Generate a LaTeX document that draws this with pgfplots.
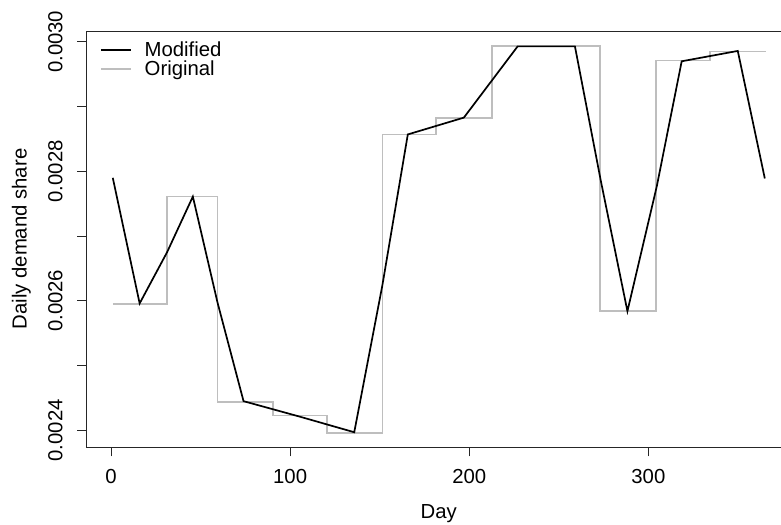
\documentclass[border=0pt]{standalone}
\usepackage{fontspec}
\setmainfont{Liberation Sans}
\usepackage{pgfplots}
\pgfplotsset{compat=1.18}
\definecolor{origgray}{RGB}{190,190,190}
\begin{document}
\begin{tikzpicture}[font=\fontsize{20.4}{24}\selectfont]
\begin{axis}[
  at={(0,0)}, anchor=south west,
  scale only axis,
  width=704.2bp, height=416bp,
  xmin=-13.56, xmax=379.56,
  ymin=0.0023742, ymax=0.0030168,
  axis line style={line width=0.9bp, color=black!85},
  tick style={line width=0.9bp, color=black!85},
  tick align=outside,
  major tick length=9.3bp,
  xtick pos=bottom, ytick pos=left,
  xtick={0,100,200,300},
  xticklabels={0,100,200,300},
  ytick={0.0024,0.0025,0.0026,0.0027,0.0028,0.0029,0.0030},
  yticklabels={0.0024,,0.0026,,0.0028,,0.0030},
  scaled y ticks=false, scaled x ticks=false,
  xticklabel style={anchor=base, yshift=-27bp},
  yticklabel style={rotate=90, anchor=base, yshift=15bp},
  xlabel={Day},
  ylabel={Daily demand share},
  xlabel style={at={(axis description cs:0.5,0)}, anchor=base, yshift=-71bp},
  ylabel style={at={(axis description cs:0,0.5)}, anchor=base, yshift=60bp},
  legend style={at={(axis description cs:0,1)}, anchor=north west, draw=none, fill=none,
    xshift=13.3bp, yshift=-11bp, inner sep=0pt, outer sep=0pt,
    font=\fontsize{20.4}{24}\selectfont, row sep=2.5bp, column sep=13bp,
    nodes={inner sep=0pt}},
  legend cell align=left,
  legend image code/.code={\draw[#1] (0bp,0bp) -- (30bp,0bp);},
]
\addlegendimage{black, line width=1.7bp}
\addlegendentry{Modified}
\addlegendimage{origgray, line width=1.7bp}
\addlegendentry{Original}

\addplot[origgray, line width=1.7bp, const plot, forget plot] coordinates {
(1, 0.002595)
(31.3, 0.002761)
(59.5, 0.002444)
(90.4, 0.002423)
(120.5, 0.002396)
(151.5, 0.002857)
(181.3, 0.002882)
(212.6, 0.002994)
(273, 0.002584)
(304.3, 0.002971)
(334.4, 0.002985)
(365.5, 0.002985)
};
\addplot[black, line width=1.7bp, forget plot] coordinates {
(1, 0.002790)
(16, 0.002596)
(31.3, 0.002675)
(45.7, 0.002761)
(59.5, 0.002597)
(74, 0.002445)
(105.5, 0.002421)
(135.8, 0.002397)
(151.5, 0.002624)
(165.7, 0.002857)
(197, 0.002883)
(227, 0.002993)
(259, 0.002993)
(273.4, 0.002786)
(288.3, 0.002584)
(304.7, 0.002777)
(318.6, 0.002970)
(349.9, 0.002986)
(365, 0.002789)
};
\end{axis}
\pgfresetboundingbox
\useasboundingbox (-86.7bp,-78bp) rectangle (694.3bp,447bp);
\end{tikzpicture}
\end{document}
